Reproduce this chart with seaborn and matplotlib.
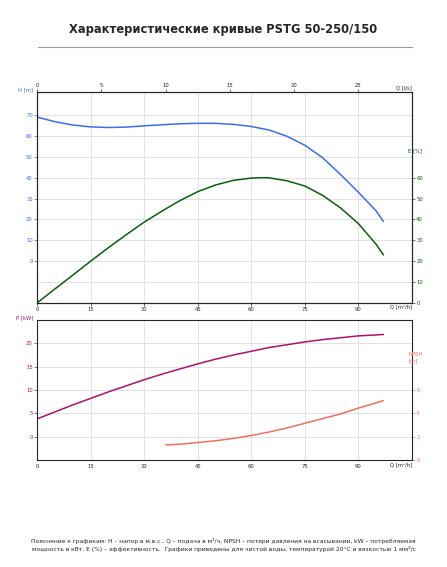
import matplotlib
matplotlib.use("Agg")
import matplotlib.pyplot as plt
import seaborn as sns

sns.set_style("white")
plt.rcParams['font.family'] = ['DejaVu Sans']

q_h = [0, 5, 10, 15, 20, 25, 30, 35, 40, 45, 50, 55, 60, 65, 70, 75, 80, 85, 90, 95, 97]
h = [69, 66.8, 65.2, 64.3, 64.0, 64.2, 64.8, 65.3, 65.8, 66.0, 66.0, 65.5, 64.5, 62.8, 59.8, 55.5, 49.5, 41.5, 33, 24, 19]
q_e = [0, 5, 10, 15, 20, 25, 30, 35, 40, 45, 50, 55, 60, 63, 65, 70, 75, 80, 85, 90, 95, 97]
e = [0, 6.7, 13.3, 20, 26.5, 32.7, 38.7, 44, 49, 53.3, 56.5, 58.7, 59.8, 60, 59.9, 58.5, 56, 51.5, 45.5, 38, 28, 23]
q_p = [0, 5, 10, 15, 20, 25, 30, 35, 40, 45, 50, 55, 60, 65, 70, 75, 80, 85, 90, 95, 97]
p = [3.8, 5.3, 6.8, 8.2, 9.6, 10.9, 12.2, 13.4, 14.5, 15.6, 16.6, 17.5, 18.3, 19.1, 19.7, 20.3, 20.8, 21.2, 21.6, 21.8, 21.9]
q_n = [36, 40, 45, 50, 55, 60, 65, 70, 75, 80, 85, 90, 95, 97]
npsh = [1.3, 1.35, 1.5, 1.65, 1.85, 2.1, 2.4, 2.75, 3.15, 3.55, 3.95, 4.45, 4.9, 5.1]
xticks = [0, 15, 30, 45, 60, 75, 90]
ls_ticks = [0, 5, 10, 15, 20, 25]

fig = plt.figure(figsize=(4.47, 5.67), dpi=100)
W, H = 447, 567
def ax_at(x0, y0, x1, y1):
    return fig.add_axes([x0/W, 1-y1/H, (x1-x0)/W, (y1-y0)/H])

fig.text(0.5, 1-30/H, "Характеристические кривые PSTG 50-250/150", ha='center', va='center',
         fontsize=8.3, fontweight='bold')
fig.add_artist(plt.Line2D([38/W, 412/W], [1-47/H, 1-47/H], color='#999999', lw=0.8))

blue, green, mag, sal = '#3b6fe8', '#0b5e0b', '#b0106e', '#f07060'
fs = 3.8
lw = 1.1

def style(ax):
    ax.set_xlim(0, 105)
    ax.set_xticks(xticks)
    ax.tick_params(labelsize=fs, length=2, width=0.5, pad=1)
    ax.grid(True, color='#dddddd', lw=0.6)
    for s in ax.spines.values():
        s.set_color('#555555'); s.set_linewidth(0.6)

ax1 = ax_at(37, 92, 412, 303)
style(ax1)
ax1.set_ylim(-20, 81)
ax1.set_yticks(range(0, 80, 10))
for yy in (-10,):
    ax1.axhline(yy, color='#dddddd', lw=0.6, zorder=0)
sns.lineplot(x=q_h, y=h, ax=ax1, color=blue, lw=lw)
ax1.tick_params(axis='y', colors=blue)
ax1.text(-1, 81, "H [m]", color=blue, fontsize=fs, ha='right', va='bottom')
ax1.text(105, -20.6, "Q [m³/h]", fontsize=fs, ha='right', va='top')
axe = ax1.twinx()
axe.set_ylim(0, 101)
axe.set_yticks(range(0, 61, 10))
sns.lineplot(x=q_e, y=e, ax=axe, color=green, lw=lw)
axe.tick_params(labelsize=fs, length=2, width=0.5, pad=1, colors=green)
axe.text(104, 72, "E [%]", color=green, fontsize=fs, ha='left')
axe.set_ylabel("")
axt = ax1.twiny()
axt.set_xlim(0, 105/3.6)
axt.set_xticks(ls_ticks)
axt.tick_params(labelsize=fs, length=2, width=0.5, pad=1)
ax1.text(105, 81.6, "Q [l/s]", fontsize=fs, ha='right', va='bottom')

ax2 = ax_at(37, 320, 412, 460)
style(ax2)
ax2.set_ylim(-5, 25)
ax2.set_yticks([0, 5, 10, 15, 20])
sns.lineplot(x=q_p, y=p, ax=ax2, color=mag, lw=lw)
ax2.tick_params(axis='y', colors=mag)
ax2.text(-1, 25, "P [kW]", color=mag, fontsize=fs, ha='right', va='bottom')
ax2.text(105, -5.6, "Q [m³/h]", fontsize=fs, ha='right', va='top')
axn = ax2.twinx()
axn.set_ylim(0, 12)
axn.set_yticks([0, 2, 4, 6])
sns.lineplot(x=q_n, y=npsh, ax=axn, color=sal, lw=lw)
axn.tick_params(labelsize=fs, length=2, width=0.5, pad=1, colors=sal)
axn.text(104, 8.4, "NPSH\n[m]", color=sal, fontsize=fs, ha='left')
axn.set_ylabel("")

fig.text(0.5, 1-545/H, "Пояснение к графикам: H – напор в м.в.с., Q – подача в м³/ч, NPSH – потери давления на всасывании, kW – потребляемая\n"
         "мощность в кВт. E (%) – эффективность.  Графики приведены для чистой воды, температурой 20°С и вязкостью 1 мм²/с",
         ha='center', va='center', fontsize=4.3, linespacing=1.6)
fig.savefig("out.png", dpi=100)
